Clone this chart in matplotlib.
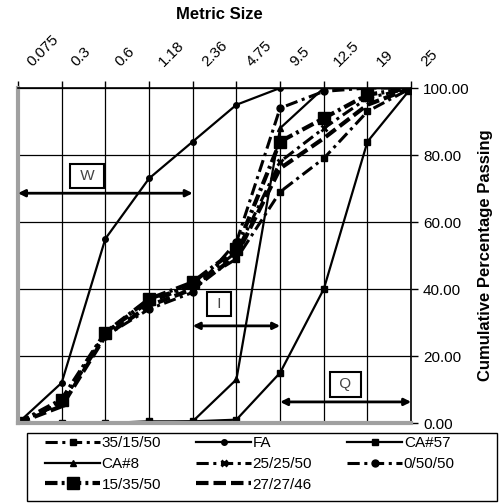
import matplotlib
matplotlib.use("Agg")
import matplotlib.pyplot as plt
import matplotlib.transforms as mtransforms
from matplotlib.patches import Rectangle

plt.rcParams['font.family'] = ['Liberation Sans', 'DejaVu Sans']

# sieve sizes (mm), plotted as equally spaced categories
sizes = ['0.075', '0.3', '0.6', '1.18', '2.36', '4.75', '9.5', '12.5', '19', '25']

fa = [0, 12, 55, 73, 84, 95, 100, 100, 100, 100]
ca57 = [0, 0, 0, 0.5, 0.5, 1, 15, 40, 84, 100]
ca8 = [0, 0, 0, 0, 0.5, 13, 88, 100, 100, 100]
b35_15_50 = [0, 6, 27, 37, 41, 49, 69, 79, 93, 100]
b25_25_50 = [0, 6, 27, 36, 41, 51, 78, 88, 97, 100]
b0_50_50 = [0, 6, 26, 34, 39, 54, 94, 99, 100, 100]
b15_35_50 = [0, 7, 27, 37, 42, 52, 84, 91, 98, 100]
b27_27_46 = [0, 5, 26, 35, 40, 50, 76, 85, 95, 100]

# zone arrows: (label, start index, end index, arrow y, box x, box y)
zones = [('W', 0, 4, 68.6, 1.58, 73.7),
         ('I', 4, 6, 29.0, 4.6, 35.5),
         ('Q', 6, 9, 6.3, 7.5, 11.6)]

x = list(range(len(sizes)))

fig = plt.figure(figsize=(4.99, 5.03), dpi=100)
ax = fig.add_axes([0.036, 0.159, 0.788, 0.666])

h = {}
h['FA'], = ax.plot(x, fa, '-', color='k', lw=1.6, marker='o', ms=4)
h['CA#57'], = ax.plot(x, ca57, '-', color='k', lw=1.6, marker='s', ms=4)
h['CA#8'], = ax.plot(x, ca8, '-', color='k', lw=1.6, marker='^', ms=4)
h['35/15/50'], = ax.plot(x, b35_15_50, color='k', lw=2.2, marker='s', ms=5,
                         dashes=(4, 1.5, 1, 1.5))
h['25/25/50'], = ax.plot(x, b25_25_50, color='k', lw=2.2, marker='x', ms=5,
                         mew=2, dashes=(4, 1.5, 1, 1.5))
h['0/50/50'], = ax.plot(x, b0_50_50, color='k', lw=2.2, marker='o', ms=5,
                        dashes=(4, 1.5, 1, 1.5))
h['15/35/50'], = ax.plot(x, b15_35_50, color='k', lw=3, marker='s', ms=9,
                         dashes=(3, 1, 0.7, 1))
h['27/27/46'], = ax.plot(x, b27_27_46, color='k', lw=3, dashes=(3, 1.2))

for lab, x0, x1, ya, bx, by in zones:
    ax.annotate('', xy=(x1, ya), xytext=(x0, ya),
                arrowprops=dict(arrowstyle='<|-|>', color='k', lw=2,
                                mutation_scale=10, shrinkA=0, shrinkB=0))
    ax.text(bx, by, ' ' + lab + ' ', ha='center', va='center', fontsize=11,
            color='#444444',
            bbox=dict(boxstyle='square,pad=0.35', fc='white', ec='k', lw=1.5))

ax.set_xlim(0, 9)
ax.set_ylim(0, 100)
ax.set_xticks(x)
ax.set_yticks(range(0, 101, 20))
ax.yaxis.set_major_formatter(matplotlib.ticker.FormatStrFormatter('%.2f'))
ax.grid(True, color='k', lw=0.9)
ax.set_axisbelow(True)

ax.xaxis.tick_top()
ax.yaxis.tick_right()
ax.yaxis.set_label_position('right')
ax.tick_params(axis='both', direction='out', length=5, width=1, labelsize=11,
               color='k')
ax.set_xticklabels([])

# rotated size labels along the top
trans = ax.get_xaxis_transform() + mtransforms.ScaledTranslation(
    17 / 100, 19 / 100, fig.dpi_scale_trans)
for i, s in zip(x, sizes):
    ax.text(i, 1, s, transform=trans, rotation=45, rotation_mode='anchor',
            ha='left', va='bottom', fontsize=11, clip_on=False)

for s in ['left', 'bottom']:
    ax.spines[s].set_color('#a0a0a0')
    ax.spines[s].set_linewidth(3)
for s in ['top', 'right']:
    ax.spines[s].set_color('k')
    ax.spines[s].set_linewidth(1.2)

ax.set_ylabel('Cumulative Percentage Passing', fontsize=12, fontweight='bold',
              labelpad=6)
fig.text(0.44, 0.972, 'Metric Size', ha='center', va='center', fontsize=12,
         fontweight='bold')

order = ['35/15/50', 'CA#8', '15/35/50', 'FA', '25/25/50', '27/27/46',
         'CA#57', '0/50/50']
leg = fig.legend([h[k] for k in order], order, ncol=3, loc='upper left',
                 bbox_to_anchor=(45 / 499, 1 - 436 / 503),
                 fontsize=11, handlelength=3.6, handletextpad=0.1,
                 columnspacing=2.3, labelspacing=0.45, borderaxespad=0,
                 borderpad=0, frameon=False)
fig.patches.append(Rectangle((27 / 499, 2 / 503), 470 / 499, (501 - 433) / 503,
                             transform=fig.transFigure, fill=False, ec='k',
                             lw=1))

fig.savefig('out.png', dpi=100)
